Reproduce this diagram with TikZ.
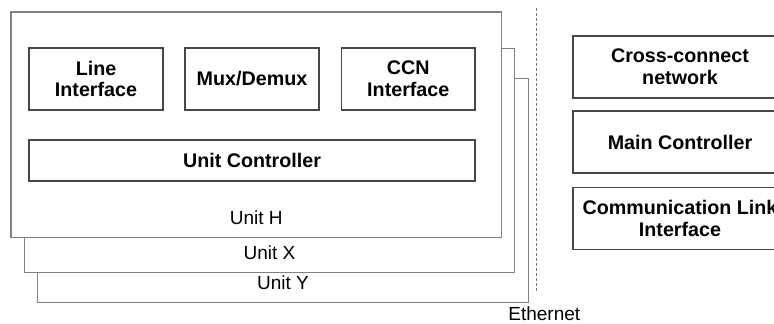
\documentclass[tikz,border=0pt]{standalone}
\usepackage{fontspec}
\setmainfont{Liberation Sans}
\begin{document}
\begin{tikzpicture}[x=1pt,y=-1pt,
  unitframe/.style={draw=black!50, line width=1.1pt, fill=white},
  partbox/.style={draw=black!72, line width=1.2pt, fill=white, inner sep=0pt,
    align=center, font=\fontsize{19.7}{21.7}\selectfont\bfseries},
  unitlabel/.style={anchor=base, inner sep=0pt, font=\fontsize{19}{22}\selectfont},
  busline/.style={draw=black!55, line width=0.9pt, dash pattern=on 3pt off 2pt}]
\useasboundingbox (0,0) rectangle (774,324);

% stacked unit frames, back to front
\draw[unitframe] (37.7,78.3) rectangle (528.3,302.7);
\node[unitlabel] (lblY) at (283,289.3) {Unit Y};
\draw[unitframe] (24.3,48.3) rectangle (514.7,272.7);
\node[unitlabel] (lblX) at (269.5,259.3) {Unit X};
\draw[unitframe] (11,12) rectangle (501.7,237.3);
\node[unitlabel] (lblH) at (256.3,224) {Unit H};

% functional blocks inside a unit
\node[partbox, minimum width=134pt, minimum height=62pt] (line) at (96,79) {Line\\Interface};
\node[partbox, minimum width=134pt, minimum height=62pt] (mux) at (252,79) {Mux/Demux};
\node[partbox, minimum width=133.3pt, minimum height=62pt] (ccn) at (408.3,79) {CCN\\Interface};
\node[partbox, minimum width=446pt, minimum height=41pt] (uctrl) at (252,160.5) {Unit Controller};

% Ethernet separator
\coordinate (ethTop) at (536.7,8);
\coordinate (ethBot) at (536.7,293);
\draw[busline] (ethTop) -- (ethBot);
\node[unitlabel] (eth) at (544.3,320) {Ethernet};

% shared system blocks
\node[partbox, minimum width=214pt, minimum height=62pt] (xcn) at (680,67) {Cross-connect\\network};
\node[partbox, minimum width=214pt, minimum height=62pt] (mctrl) at (680,142) {Main Controller};
\node[partbox, minimum width=214pt, minimum height=62pt] (cli) at (680,218.3) {Communication Link\\Interface};
\end{tikzpicture}
\end{document}
